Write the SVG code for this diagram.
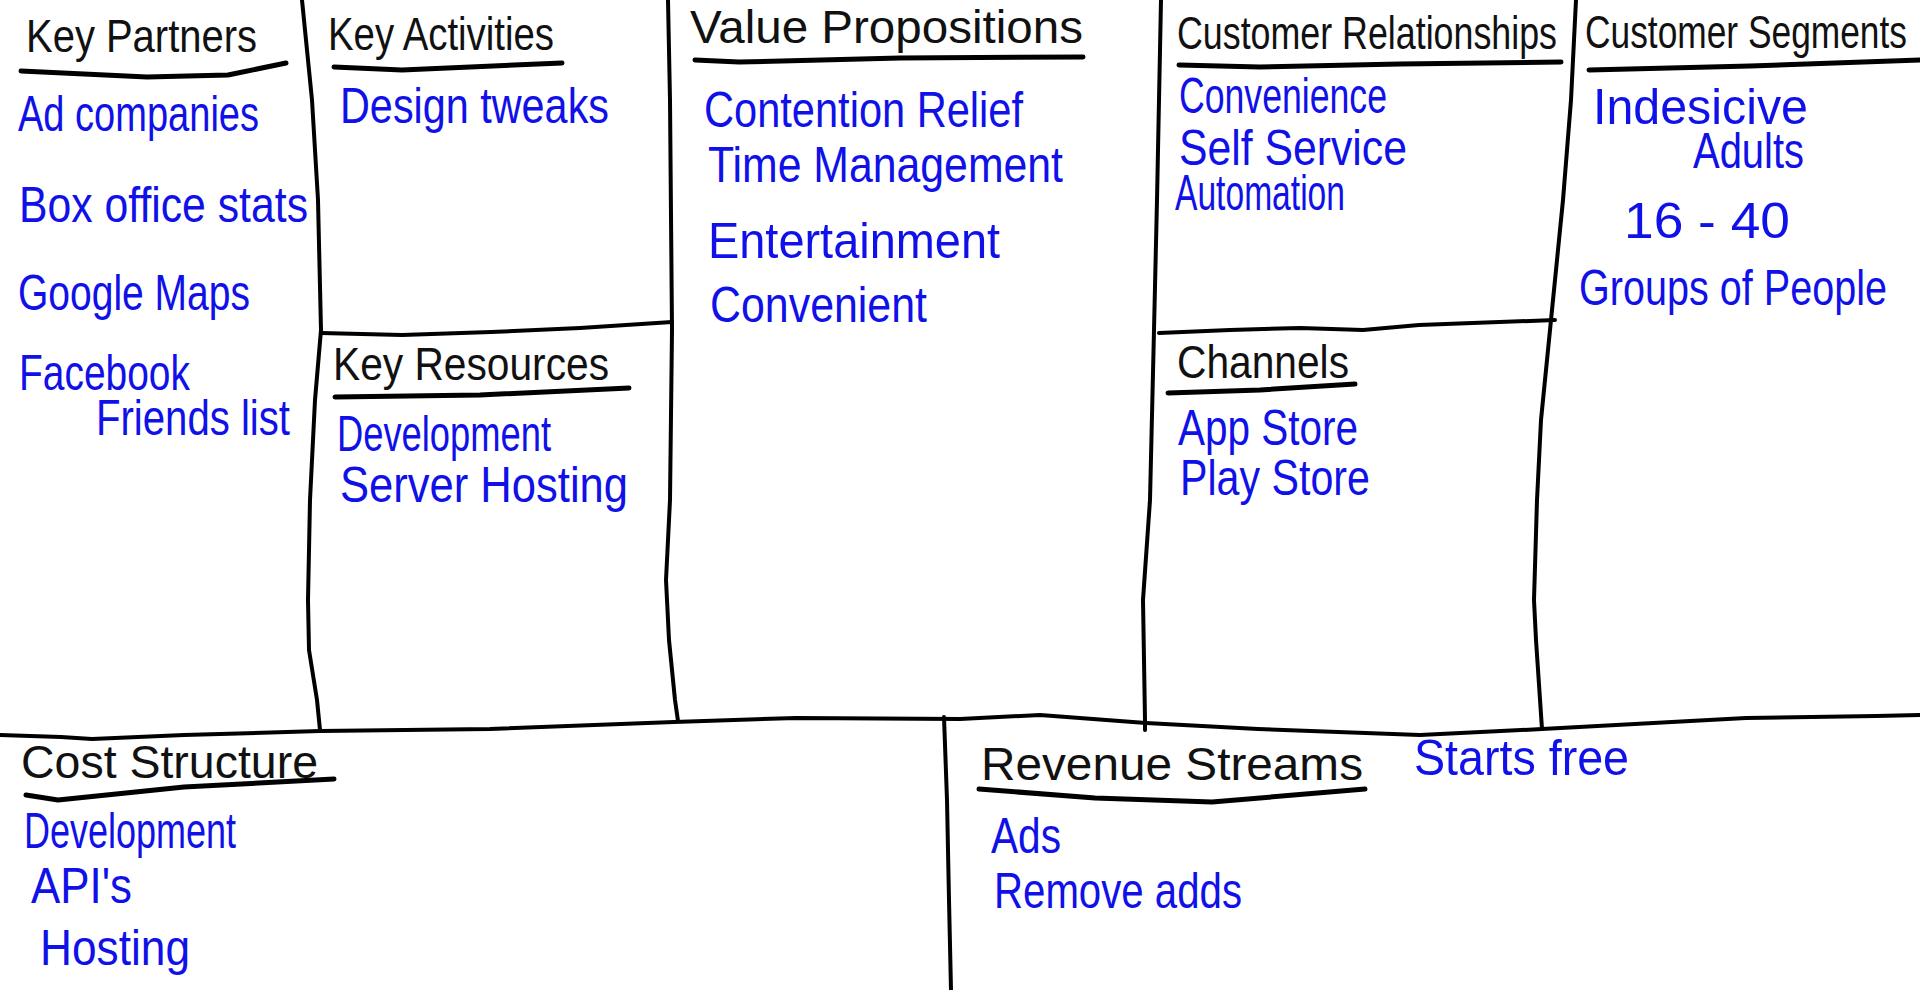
<svg xmlns="http://www.w3.org/2000/svg" width="1920" height="990" viewBox="0 0 1920 990">
<style>
.ln{fill:none;stroke:#000;stroke-width:4;stroke-linecap:round;stroke-linejoin:round}
.ul{fill:none;stroke:#000;stroke-width:5;stroke-linecap:round;stroke-linejoin:round}
text{font-family:"Liberation Sans","DejaVu Sans",sans-serif;}
.h{fill:#111;font-size:46px}
.b{fill:#1010e8;font-size:50px}
</style>
<rect width="1920" height="990" fill="#fff"/>
<g id="connectors">
<path class="ln" d="M302,0 L312,100 L318,200 L321,330 L315,400 L310,500 L308,600 L309,650 L317,700 L320,730"/>
<path class="ln" d="M668,0 L670,100 L672,330 L670,500 L666,580 L669,640 L675,700 L678,721"/>
<path class="ln" d="M1161,0 L1159,100 L1157,200 L1154,330 L1150,500 L1143,600 L1145,720 L1145,730"/>
<path class="ln" d="M1576,0 L1571,100 L1563,200 L1551,320 L1541,420 L1537,500 L1534,600 L1536,640 L1542,729"/>
<path class="ln" d="M321,333 L402,335 L491,332 L580,328 L672,322"/>
<path class="ln" d="M1159,333 L1230,330 L1300,328 L1363,330 L1419,325 L1555,320"/>
<path class="ln" d="M0,735 L61,737 L92,739 L184,735 L320,731 L490,729 L674,722 L796,718 L960,719 L1040,715 L1146,723 L1258,729 L1420,735 L1542,729 L1746,718 L1876,716 L1920,715"/>
<path class="ln" d="M944,717 L947,800 L949,900 L951,990"/>
</g>
<g id="key-partners">
<text class="h" x="26" y="52" textLength="231" lengthAdjust="spacingAndGlyphs" font-size="48">Key Partners</text>
<path class="ul" d="M21,71 L147,77 L228,75 L286,63"/>
<text class="b" x="18" y="131" textLength="241" lengthAdjust="spacingAndGlyphs">Ad companies</text>
<text class="b" x="19" y="222" textLength="289" lengthAdjust="spacingAndGlyphs">Box office stats</text>
<text class="b" x="18" y="310" textLength="232" lengthAdjust="spacingAndGlyphs">Google Maps</text>
<text class="b" x="19" y="390" textLength="171" lengthAdjust="spacingAndGlyphs" font-size="40">Facebook</text>
<text class="b" x="96" y="435" textLength="194" lengthAdjust="spacingAndGlyphs" font-size="40">Friends list</text>
</g>
<g id="key-activities">
<text class="h" x="328" y="50" textLength="226" lengthAdjust="spacingAndGlyphs" font-size="48">Key Activities</text>
<path class="ul" d="M334,67 L402,70 L562,63"/>
<text class="b" x="340" y="123" textLength="269" lengthAdjust="spacingAndGlyphs">Design tweaks</text>
</g>
<g id="key-resources">
<text class="h" x="333" y="380" textLength="276" lengthAdjust="spacingAndGlyphs">Key Resources</text>
<path class="ul" d="M335,397 L480,395 L629,388"/>
<text class="b" x="337" y="451" textLength="214" lengthAdjust="spacingAndGlyphs" font-size="44">Development</text>
<text class="b" x="340" y="502" textLength="288" lengthAdjust="spacingAndGlyphs" font-size="46">Server Hosting</text>
</g>
<g id="value-propositions">
<text class="h" x="690" y="43" textLength="393" lengthAdjust="spacingAndGlyphs">Value Propositions</text>
<path class="ul" d="M695,60 L739,62 L900,58 L1083,57"/>
<text class="b" x="704" y="127" textLength="319" lengthAdjust="spacingAndGlyphs" font-size="48">Contention Relief</text>
<text class="b" x="708" y="182" textLength="355" lengthAdjust="spacingAndGlyphs" font-size="48">Time Management</text>
<text class="b" x="708" y="258" textLength="292" lengthAdjust="spacingAndGlyphs" font-size="52">Entertainment</text>
<text class="b" x="710" y="322" textLength="217" lengthAdjust="spacingAndGlyphs" font-size="50">Convenient</text>
</g>
<g id="customer-relationships">
<text class="h" x="1177" y="49" textLength="380" lengthAdjust="spacingAndGlyphs" font-size="38">Customer Relationships</text>
<path class="ul" d="M1179,65 L1260,67 L1400,64 L1561,62"/>
<text class="b" x="1179" y="113" textLength="208" lengthAdjust="spacingAndGlyphs" font-size="42">Convenience</text>
<text class="b" x="1179" y="165" textLength="228" lengthAdjust="spacingAndGlyphs" font-size="42">Self Service</text>
<text class="b" x="1175" y="210" textLength="170" lengthAdjust="spacingAndGlyphs" font-size="34">Automation</text>
</g>
<g id="channels">
<text class="h" x="1177" y="378" textLength="172" lengthAdjust="spacingAndGlyphs">Channels</text>
<path class="ul" d="M1168,393 L1260,390 L1355,384"/>
<text class="b" x="1178" y="445" textLength="180" lengthAdjust="spacingAndGlyphs" font-size="44">App Store</text>
<text class="b" x="1180" y="495" textLength="190" lengthAdjust="spacingAndGlyphs" font-size="44">Play Store</text>
</g>
<g id="customer-segments">
<text class="h" x="1585" y="48" textLength="322" lengthAdjust="spacingAndGlyphs" font-size="36">Customer Segments</text>
<path class="ul" d="M1589,70 L1750,66 L1920,60"/>
<text class="b" x="1593" y="124" textLength="215" lengthAdjust="spacingAndGlyphs" font-size="40">Indesicive</text>
<text class="b" x="1693" y="168" textLength="111" lengthAdjust="spacingAndGlyphs" font-size="38">Adults</text>
<text class="b" x="1624" y="238" textLength="166" lengthAdjust="spacingAndGlyphs" font-size="54">16 - 40</text>
<text class="b" x="1579" y="305" textLength="308" lengthAdjust="spacingAndGlyphs" font-size="42">Groups of People</text>
</g>
<g id="cost-structure">
<text class="h" x="21" y="778" textLength="297" lengthAdjust="spacingAndGlyphs">Cost Structure</text>
<path class="ul" d="M26,795 L58,800 L184,787 L334,779"/>
<text class="b" x="24" y="848" textLength="212" lengthAdjust="spacingAndGlyphs" font-size="44">Development</text>
<text class="b" x="31" y="903" textLength="101" lengthAdjust="spacingAndGlyphs" font-size="44">API's</text>
<text class="b" x="40" y="965" textLength="150" lengthAdjust="spacingAndGlyphs" font-size="48">Hosting</text>
</g>
<g id="revenue-streams">
<text class="h" x="981" y="780" textLength="382" lengthAdjust="spacingAndGlyphs">Revenue Streams</text>
<path class="ul" d="M979,789 L1095,798 L1212,802 L1365,789"/>
<text class="b" x="1414" y="775" textLength="215" lengthAdjust="spacingAndGlyphs" font-size="44">Starts free</text>
<text class="b" x="991" y="853" textLength="70" lengthAdjust="spacingAndGlyphs">Ads</text>
<text class="b" x="994" y="908" textLength="248" lengthAdjust="spacingAndGlyphs" font-size="46">Remove adds</text>
</g>
</svg>
